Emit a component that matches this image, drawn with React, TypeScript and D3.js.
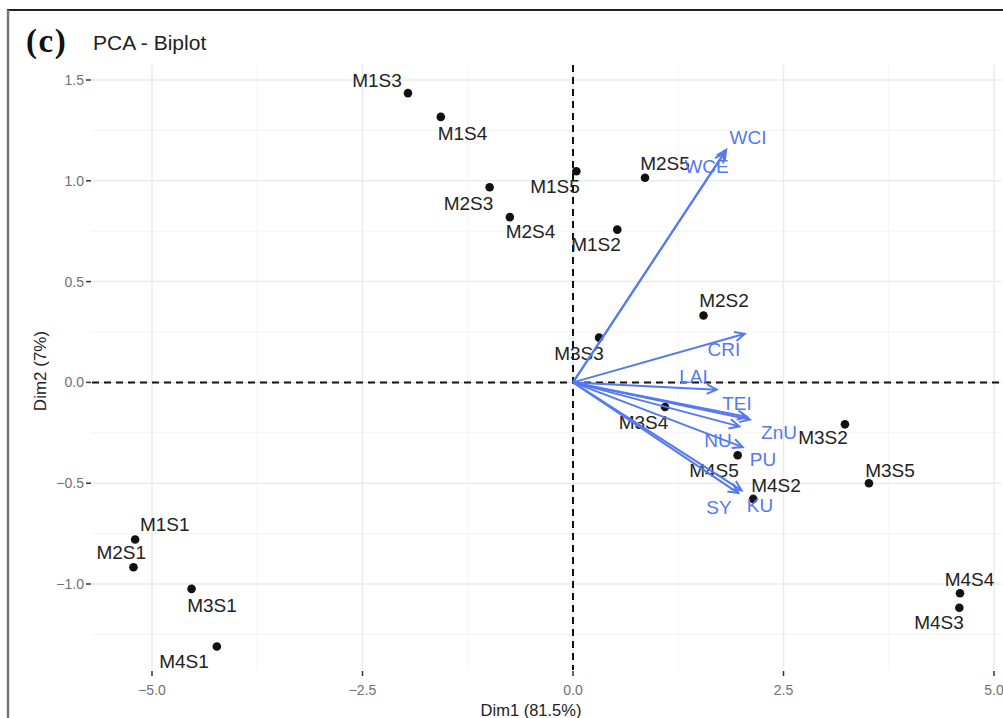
import React from "react";
import * as d3 from "d3";

// ---- data ----
const individuals = ["M1S3","M1S4","M1S5","M2S3","M2S4","M2S5","M1S2","M2S2","M3S3","M3S4","M4S5","M4S2","M3S2","M3S5","M4S4","M4S3","M1S1","M2S1","M3S1","M4S1"];
const dim1 = [-1.96,-1.57,0.04,-0.99,-0.75,0.855,0.526,1.55,0.31,1.093,1.956,2.14,3.23,3.515,4.596,4.588,-5.20,-5.22,-4.53,-4.23];
const dim2 = [1.435,1.317,1.047,0.968,0.82,1.015,0.758,0.332,0.222,-0.122,-0.361,-0.578,-0.208,-0.50,-1.046,-1.118,-0.779,-0.917,-1.024,-1.31];
// repelled label positions (data units)
const labelDim1 = [-2.328,-1.312,-0.214,-1.241,-0.505,1.093,0.273,1.793,0.071,0.837,1.675,2.411,2.969,3.765,4.709,4.347,-4.849,-5.365,-4.287,-4.620];
const labelDim2 = [1.499,1.238,0.975,0.891,0.752,1.087,0.685,0.407,0.144,-0.196,-0.437,-0.510,-0.273,-0.434,-0.974,-1.190,-0.701,-0.842,-1.104,-1.382];

const variables = ["WCI","WCE","CRI","LAI","TEI","ZnU","NU","PU","SY","KU"];
const varDim1 = [1.82,1.80,2.04,1.707,2.10,2.07,1.975,2.015,1.963,2.003];
const varDim2 = [1.154,1.14,0.241,-0.036,-0.184,-0.172,-0.218,-0.321,-0.549,-0.536];
const varLabelDim1 = [2.078,1.586,1.793,1.431,1.948,2.447,1.722,2.257,1.734,2.221];
const varLabelDim2 = [1.218,1.074,0.164,0.030,-0.102,-0.246,-0.288,-0.382,-0.618,-0.610];

const xTicks = [-5, -2.5, 0, 2.5, 5];
const yTicks = [-1, -0.5, 0, 0.5, 1, 1.5];
const xMinor = [-3.75, -1.25, 1.25, 3.75];
const yMinor = [-1.25, -0.75, -0.25, 0.25, 0.75, 1.25];

const title = "PCA - Biplot";
const panelTag = "(c)";
const xTitle = "Dim1 (81.5%)";
const yTitle = "Dim2 (7%)";

export default function App() {
  const W = 1003, H = 718;
  const L = 92, R = 1001, T = 65, B = 670;
  const x = d3.scaleLinear().domain([-5, 5]).range([152, 994]);
  const y = d3.scaleLinear().domain([-1, 1.5]).range([584, 80]);
  const font = "'Liberation Sans', Arial, Helvetica, sans-serif";
  const blue = "#5479F0";
  const fmt = d3.format(".1f");

  const arrowHead = (x0: number, y0: number, x1: number, y1: number) => {
    const ang = Math.atan2(y1 - y0, x1 - x0);
    const len = 11, a = Math.PI / 7;
    const p1 = [x1 - len * Math.cos(ang - a), y1 - len * Math.sin(ang - a)];
    const p2 = [x1 - len * Math.cos(ang + a), y1 - len * Math.sin(ang + a)];
    return `M${p1[0]},${p1[1]}L${x1},${y1}L${p2[0]},${p2[1]}`;
  };

  return (
    <svg width={W} height={H} style={{ position: "absolute", left: 0, top: 0, background: "#fff" }} fontFamily={font}>
      <rect x={0} y={0} width={W} height={H} fill="#fff" />
      {/* frame */}
      <line x1={7} x2={W} y1={10} y2={10} stroke="#222" strokeWidth={2} />
      <line x1={8} x2={8} y1={10} y2={H} stroke="#777" strokeWidth={2.5} />

      {/* grid */}
      {xMinor.map((v) => (
        <line key={"xm" + v} x1={x(v)} x2={x(v)} y1={T} y2={B} stroke="#f3f3f3" strokeWidth={1} />
      ))}
      {yMinor.map((v) => (
        <line key={"ym" + v} x1={L} x2={R} y1={y(v)} y2={y(v)} stroke="#f3f3f3" strokeWidth={1} />
      ))}
      {xTicks.map((v) => (
        <line key={"xg" + v} x1={x(v)} x2={x(v)} y1={T} y2={B} stroke="#ebebeb" strokeWidth={1.5} />
      ))}
      {yTicks.map((v) => (
        <line key={"yg" + v} x1={L} x2={R} y1={y(v)} y2={y(v)} stroke="#ebebeb" strokeWidth={1.5} />
      ))}

      {/* axes ticks & labels */}
      {yTicks.map((v) => (
        <g key={"yt" + v}>
          <line x1={L - 6} x2={L - 1} y1={y(v)} y2={y(v)} stroke="#333" strokeWidth={1.5} />
          <text x={L - 8} y={y(v)} dy="0.35em" textAnchor="end" fontSize={14} fill="#707070">{fmt(v)}</text>
        </g>
      ))}
      {xTicks.map((v) => (
        <g key={"xt" + v}>
          <line x1={x(v)} x2={x(v)} y1={B + 1} y2={B + 6} stroke="#333" strokeWidth={1.5} />
          <text x={x(v)} y={B + 20} dy="0.35em" textAnchor="middle" fontSize={14} fill="#707070">{fmt(v)}</text>
        </g>
      ))}

      {/* dashed reference lines */}
      <line x1={L} x2={R + 2} y1={y(0)} y2={y(0)} stroke="#111" strokeWidth={2} strokeDasharray="7,5" />
      <line x1={x(0)} x2={x(0)} y1={T} y2={B} stroke="#111" strokeWidth={2} strokeDasharray="7,5" />

      {/* individuals */}
      {individuals.map((n, i) => (
        <circle key={"p" + n} cx={x(dim1[i])} cy={y(dim2[i])} r={4.3} fill="#111" />
      ))}
      {individuals.map((n, i) => (
        <text key={"l" + n} x={x(labelDim1[i])} y={y(labelDim2[i])} dy="0.36em" textAnchor="middle" fontSize={19} fill="#222">{n}</text>
      ))}

      {/* variable arrows */}
      {variables.map((v, i) => {
        const x0 = x(0), y0 = y(0), x1 = x(varDim1[i]), y1 = y(varDim2[i]);
        return (
          <g key={"v" + v}>
            <line x1={x0} y1={y0} x2={x1} y2={y1} stroke={blue} strokeWidth={2} />
            <path d={arrowHead(x0, y0, x1, y1)} fill="none" stroke={blue} strokeWidth={2} />
          </g>
        );
      })}
      {variables.map((v, i) => (
        <text key={"vl" + v} x={x(varLabelDim1[i])} y={y(varLabelDim2[i])} dy="0.36em" textAnchor="middle" fontSize={19} fill={blue}>{v}</text>
      ))}

      {/* titles */}
      <text x={26} y={52} fontFamily="'Liberation Serif', 'Times New Roman', serif" fontWeight="bold" fontSize={33} letterSpacing={1.5} fill="#111">{panelTag}</text>
      <text x={93} y={50} fontSize={21} fill="#222">{title}</text>
      <text x={531} y={716} textAnchor="middle" fontSize={16.5} fill="#222">{xTitle}</text>
      <text transform={`translate(46,371) rotate(-90)`} textAnchor="middle" fontSize={17} fill="#222">{yTitle}</text>
    </svg>
  );
}
